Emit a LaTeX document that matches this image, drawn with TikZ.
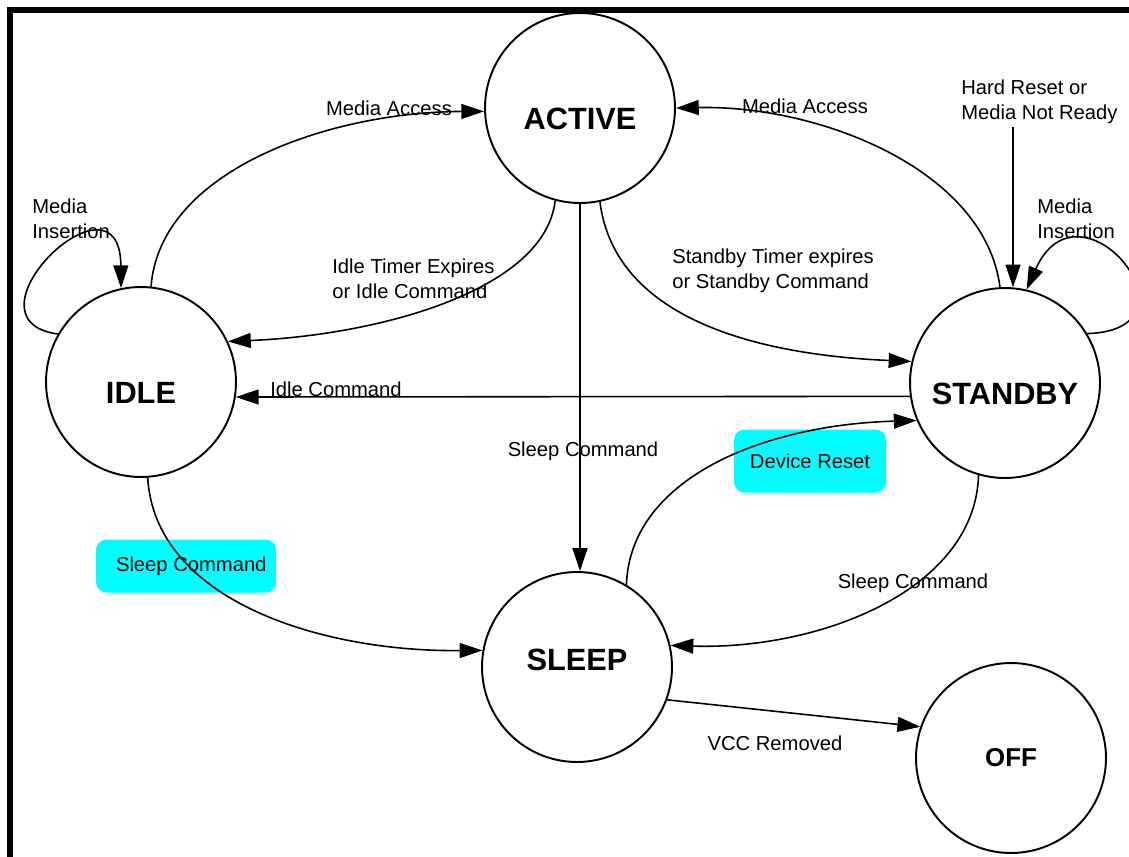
\documentclass[tikz,border=0pt]{standalone}
\usepackage{fontspec}
\setmainfont{Liberation Sans}
\usetikzlibrary{arrows.meta}
\definecolor{notecyan}{RGB}{0,255,255}

\begin{document}
\begin{tikzpicture}[x=0.02cm,y=-0.02cm,
  state/.style={draw,circle,line width=1.1pt,minimum size=3.8cm,inner sep=0pt,
    font=\fontsize{17.5}{20}\selectfont\bfseries},
  lowtext/.style={text height=24.5pt,text depth=0pt},
  hightext/.style={text height=12.5pt,text depth=9pt},
  trans/.style={line width=0.9pt,-{Triangle[length=13pt,width=8.5pt]}},
  lbl/.style={font=\fontsize{11.5}{14}\selectfont,inner sep=0pt,align=left},
  note/.style={fill=notecyan,rounded corners=6pt,inner sep=0pt}]
\useasboundingbox (0,0) rectangle (1129,856);

% frame
\draw[line width=3.4pt] (10,870) -- (10,10) -- (1140,10);

% highlighted labels
\node[note,minimum width=3.04cm,minimum height=1.26cm,lbl] (resetbox) at (810,461) {Device Reset};
\node[note,minimum width=3.6cm,minimum height=1.06cm,lbl] (sleepbox) at (186,566) {\hspace{6pt}Sleep Command};

% states
\node[state,lowtext] (active) at (580,108) {ACTIVE};
\node[state,lowtext] (idle) at (141,382) {IDLE};
\node[state,lowtext] (standby) at (1005,383) {STANDBY};
\node[state,hightext] (sleep) at (577,667) {SLEEP};
\node[state,font=\fontsize{14.7}{17}\selectfont\bfseries] (off) at (1011,758) {OFF};

\coordinate (hr) at (1013,127);

% transitions
\draw[trans] (idle.84) .. controls (160,170) and (330,112) .. (active.182);
\draw[trans] (active.255) .. controls (545,290) and (380,335) .. (idle.25);
\draw[trans] (active.south) -- (active.south |- sleep.north);
\draw[trans] (active.-78) .. controls (615,320) and (760,355) .. (standby.167);
\draw[trans] (standby.93) .. controls (985,170) and (820,105) .. (active.0);
\draw[trans] (hr) -- (hr |- standby.85);
\draw[trans] (standby.31) .. controls (1210,330) and (1080,170) .. (standby.77);
\draw[trans] (idle.150) .. controls (-45,320) and (120,160) .. (idle.102);
\draw[trans] (standby.188) -- (idle.-9);
\draw[trans] (standby.254) .. controls (975,590) and (820,650) .. (sleep.13);
\draw[trans] (sleep.59) .. controls (630,480) and (760,425) .. (standby.203);
\draw[trans] (idle.-86) .. controls (155,600) and (320,652) .. (sleep.170);
\draw[trans] (sleep.-20) -- (off.161);

% labels
\node[lbl] (accessL) at (389,108) {Media Access};
\node[lbl,anchor=west] (idletimer) at (332,279) {Idle Timer Expires\\or Idle Command};
\node[lbl] (sleepA) at (583,451) {Sleep Command};
\node[lbl,anchor=west] (stbytimer) at (672,271) {Standby Timer expires\\or Standby Command};
\node[lbl] (accessR) at (805,106) {Media Access};
\node[lbl,anchor=west] (hardreset) at (961,102) {Hard Reset or\\Media Not Ready};
\node[lbl,anchor=west] (insertR) at (1037,219) {Media\\Insertion};
\node[lbl,anchor=west] (insertL) at (32,219) {Media\\Insertion};
\node[lbl] (idlecmd) at (336,389) {Idle Command};
\node[lbl] (sleepS) at (913,583) {Sleep Command};
\node[lbl] (vcc) at (775,743) {VCC Removed};

\end{tikzpicture}
\end{document}
